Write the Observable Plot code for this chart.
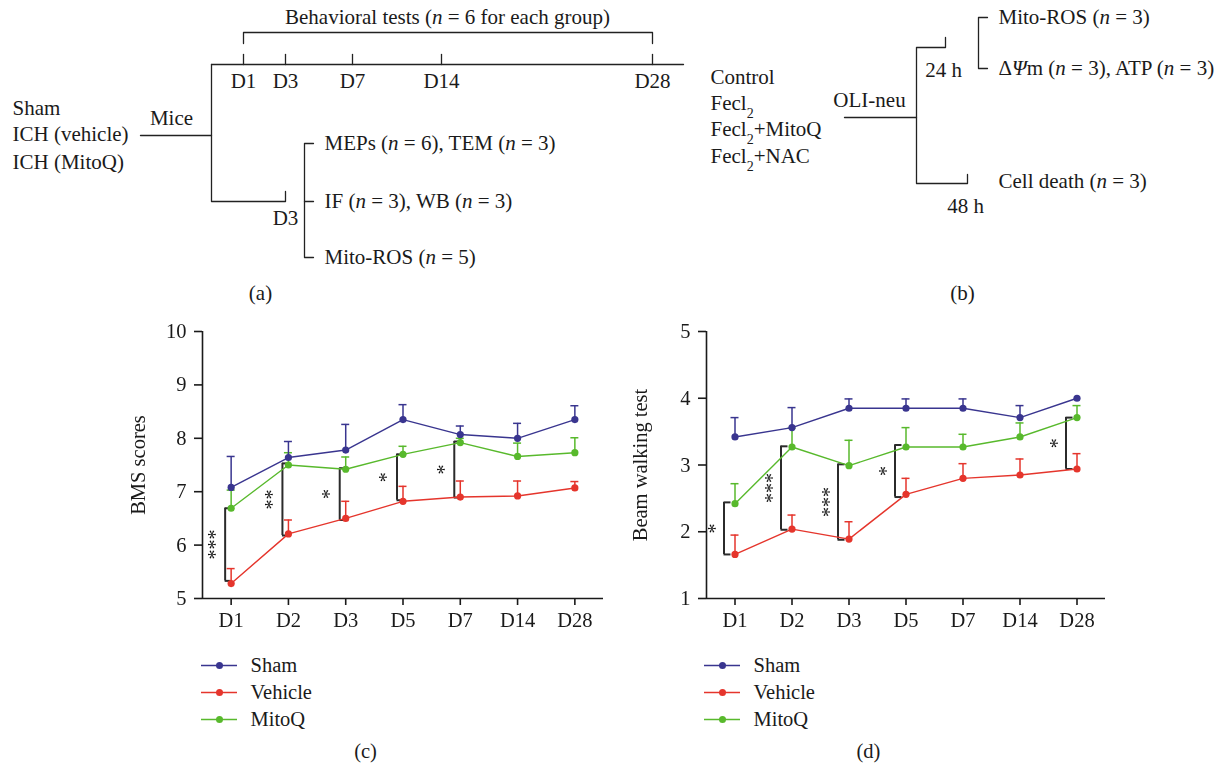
<!DOCTYPE html>
<html><head><meta charset="utf-8">
<script src="https://cdn.jsdelivr.net/npm/d3@7"></script>
<script src="https://cdn.jsdelivr.net/npm/@observablehq/plot@0.6"></script>
<style>
html,body{margin:0;padding:0;background:#fff;}
#fig{position:relative;width:1230px;height:771px;overflow:hidden;font-family:"Liberation Serif",serif;background:#fff;}
#fig > svg{position:absolute;}
#fig > svg.chart{will-change:transform;}
</style></head><body><div id="fig"></div>
<script>
// ---------- data: panel (a) ----------
const aTitle = "Behavioral tests (n = 6 for each group)";
const aDays = ["D1", "D3", "D7", "D14", "D28"];
const aGroups = ["Sham", "ICH (vehicle)", "ICH (MitoQ)"];
const aRoot = "Mice";
const aBranch = "D3";
const aAssays = ["MEPs (n = 6), TEM (n = 3)", "IF (n = 3), WB (n = 3)", "Mito-ROS (n = 5)"];
// ---------- data: panel (b) ----------
const bGroups = ["Control", "Fecl2", "Fecl2+MitoQ", "Fecl2+NAC"];
const bRoot = "OLI-neu";
const bTimes = ["24 h", "48 h"];
const bAssays24 = ["Mito-ROS (n = 3)", "ΔΨm (n = 3), ATP (n = 3)"];
const bAssays48 = ["Cell death (n = 3)"];
// ---------- data: panels (c), (d) ----------
const days = ["D1", "D2", "D3", "D5", "D7", "D14", "D28"];
const groups = ["Sham", "Vehicle", "MitoQ"];
const colors = ["#39358f", "#e5352c", "#58b92c"];

const bmsSham = [7.08, 7.64, 7.78, 8.35, 8.07, 8.00, 8.35];
const bmsShamErr = [0.58, 0.30, 0.48, 0.28, 0.16, 0.28, 0.26];
const bmsVehicle = [5.28, 6.21, 6.50, 6.82, 6.90, 6.92, 7.07];
const bmsVehicleErr = [0.28, 0.26, 0.32, 0.28, 0.30, 0.28, 0.12];
const bmsMitoQ = [6.69, 7.50, 7.42, 7.70, 7.92, 7.66, 7.73];
const bmsMitoQErr = [0.34, 0.23, 0.23, 0.15, 0.08, 0.25, 0.28];
const bmsSigDays = ["D1", "D2", "D3", "D5", "D7"];
const bmsSigTop = [6.69, 7.53, 7.44, 7.70, 7.94];
const bmsSigBottom = [5.33, 6.18, 6.47, 6.84, 6.89];
const bmsSigLabels = ["***", "**", "*", "*", "*"];
const bmsTicks = [5, 6, 7, 8, 9, 10];

const beamSham = [3.42, 3.56, 3.85, 3.85, 3.85, 3.71, 4.00];
const beamShamErr = [0.29, 0.30, 0.14, 0.14, 0.14, 0.18, 0];
const beamVehicle = [1.66, 2.04, 1.89, 2.56, 2.80, 2.85, 2.94];
const beamVehicleErr = [0.29, 0.21, 0.26, 0.24, 0.22, 0.24, 0.23];
const beamMitoQ = [2.42, 3.27, 2.99, 3.27, 3.27, 3.42, 3.71];
const beamMitoQErr = [0.30, 0.28, 0.38, 0.29, 0.19, 0.21, 0.18];
const beamSigDays = ["D1", "D2", "D3", "D5", "D28"];
const beamSigTop = [2.44, 3.28, 3.01, 3.30, 3.71];
const beamSigBottom = [1.66, 2.03, 1.88, 2.52, 2.94];
const beamSigLabels = ["*", "***", "***", "*", "*"];
const beamTicks = [1, 2, 3, 4, 5];

const captions = ["(a)", "(b)", "(c)", "(d)"];

// ---------- styling / layout ----------
const FONT = "'Liberation Serif', 'Times New Roman', serif";
const FS = 20.5;
const FS_A = 21;
const INK = "#1a1a1a";
const fig = document.getElementById("fig");

function place(svg, left, top, cls) {
  svg.style.left = left + "px";
  svg.style.top = top + "px";
  if (cls) svg.classList.add(cls);
  fig.appendChild(svg);
}

// ---------- schematic (a) + (b) ----------
const L = {
  aTitle: [447, 17], aBracketY: 32, aBracketEnd: 43,
  aLineY: 64, aLineX: [211, 683], aDayX: [243, 285, 352, 441, 652], aTickTop: 54, aDayLabelY: 81,
  aRootLineY: 135, aRootLineX0: 140, aRootLabel: [171, 118], aGroupX: 12, aGroupY: [108, 134, 162],
  aBranchY: 201, aBranchX: 285, aBranchTick: 191, aBranchLabel: [285, 218],
  aBrX: 304, aBrTick: 9, aAssayX: 324, aAssayY: [143, 201, 257],
  bGroupX: 710, bGroupY: [77, 103, 129, 156],
  bRootLabel: [869, 100], bRootY: 117, bRootX0: 844, bTrunkX: 916,
  b24Y: 47, b24X: 945, b24Tick: 37, b24Label: [943, 70],
  b48Y: 183, b48X: 967, b48Tick: 174, b48Label: [965, 206],
  bBrX: 978, bBrTick: 9, bAssayX: 998, bAssay24Y: [17, 68], bAssay48Y: [181],
  capY: 293, capX: [260, 962]
};

const segs = [];
let sid = 0;
function seg(pts) { sid++; pts.forEach(([x, y]) => segs.push({id: sid, x, y})); }
const tStart = [], tMid = [];
// (a)
tMid.push({text: aTitle, x: L.aTitle[0], y: L.aTitle[1]});
seg([[L.aDayX[0], L.aBracketEnd], [L.aDayX[0], L.aBracketY], [L.aDayX[4], L.aBracketY], [L.aDayX[4], L.aBracketEnd]]);
seg([[L.aLineX[0], L.aLineY], [L.aLineX[1], L.aLineY]]);
aDays.forEach((d, k) => {
  seg([[L.aDayX[k], L.aLineY], [L.aDayX[k], L.aTickTop]]);
  tMid.push({text: d, x: L.aDayX[k], y: L.aDayLabelY});
});
seg([[L.aLineX[0], L.aLineY], [L.aLineX[0], L.aBranchY], [L.aBranchX, L.aBranchY], [L.aBranchX, L.aBranchTick]]);
seg([[L.aRootLineX0, L.aRootLineY], [L.aLineX[0], L.aRootLineY]]);
tMid.push({text: aRoot, x: L.aRootLabel[0], y: L.aRootLabel[1]});
aGroups.forEach((g, k) => tStart.push({text: g, x: L.aGroupX, y: L.aGroupY[k]}));
tMid.push({text: aBranch, x: L.aBranchLabel[0], y: L.aBranchLabel[1]});
seg([[L.aBrX + L.aBrTick, L.aAssayY[0]], [L.aBrX, L.aAssayY[0]], [L.aBrX, L.aAssayY[2]], [L.aBrX + L.aBrTick, L.aAssayY[2]]]);
seg([[L.aBrX, L.aAssayY[1]], [L.aBrX + L.aBrTick, L.aAssayY[1]]]);
aAssays.forEach((a, k) => tStart.push({text: a, x: L.aAssayX, y: L.aAssayY[k]}));
// (b)
bGroups.forEach((g, k) => tStart.push({text: g, x: L.bGroupX, y: L.bGroupY[k]}));
tMid.push({text: bRoot, x: L.bRootLabel[0], y: L.bRootLabel[1]});
seg([[L.bRootX0, L.bRootY], [L.bTrunkX, L.bRootY]]);
seg([[L.b24X, L.b24Tick], [L.b24X, L.b24Y], [L.bTrunkX, L.b24Y], [L.bTrunkX, L.b48Y], [L.b48X, L.b48Y], [L.b48X, L.b48Tick]]);
tMid.push({text: bTimes[0], x: L.b24Label[0], y: L.b24Label[1]});
tMid.push({text: bTimes[1], x: L.b48Label[0], y: L.b48Label[1]});
seg([[L.bBrX + L.bBrTick, L.bAssay24Y[0]], [L.bBrX, L.bAssay24Y[0]], [L.bBrX, L.bAssay24Y[1]], [L.bBrX + L.bBrTick, L.bAssay24Y[1]]]);
bAssays24.forEach((a, k) => tStart.push({text: a, x: L.bAssayX, y: L.bAssay24Y[k]}));
bAssays48.forEach((a, k) => tStart.push({text: a, x: L.bAssayX, y: L.bAssay48Y[k]}));
tMid.push({text: captions[0], x: L.capX[0], y: L.capY});
tMid.push({text: captions[1], x: L.capX[1], y: L.capY});

const schematic = Plot.plot({
  width: 1230, height: 306, margin: 0,
  style: {fontFamily: FONT, fontSize: FS_A + "px", background: "transparent", color: INK},
  x: {type: "identity", axis: null},
  y: {type: "identity", axis: null},
  marks: [
    Plot.line(segs, {x: "x", y: "y", z: "id", stroke: "#222", strokeWidth: 1.3, curve: "linear"}),
    Plot.text(tStart, {x: "x", y: "y", text: "text", textAnchor: "start", fill: INK}),
    Plot.text(tMid, {x: "x", y: "y", text: "text", textAnchor: "middle", fill: INK})
  ]
});
// typographic touches: italic n, subscript 2, italic Psi
schematic.querySelectorAll("text").forEach(t => {
  if (t.children.length) return;
  let s = t.textContent;
  if (!/n =|Fecl2|Ψ/.test(s)) return;
  s = s.replace(/&/g, "&amp;").replace(/</g, "&lt;");
  s = s.replace(/\(n =/g, '(<tspan font-style="italic">n</tspan> =');
  s = s.replace(/Fecl2/g, 'Fecl<tspan baseline-shift="sub" font-size="14">2</tspan>');
  s = s.replace(/Ψ/g, '<tspan font-style="italic">Ψ</tspan>');
  t.innerHTML = s;
});
place(schematic, 0, 0);

// ---------- line charts ----------
function chart(o) {
  const rows = groups.flatMap((g, gi) => o.means[gi].map((m, i) => ({group: g, i, mean: m, err: o.errs[gi][i], upper: m + o.errs[gi][i]})));
  const withErr = rows.filter(d => d.err > 0);
  const sig = o.sigDays.map((d, k) => ({i: days.indexOf(d), top: o.sigTop[k], bottom: o.sigBottom[k], mid: (o.sigTop[k] + o.sigBottom[k]) / 2, label: o.sigLabels[k]}));
  const order = ["Vehicle", "MitoQ", "Sham"];
  const marks = [
    Plot.ruleY([o.yDomain[0]], {stroke: INK, strokeWidth: 1.6}),
    Plot.ruleX([-0.5], {stroke: INK, strokeWidth: 1.6}),
    Plot.axisX({ticks: d3.range(days.length), tickFormat: i => days[i], tickSize: 7, tickPadding: 7, strokeWidth: 1.6, stroke: INK, fill: INK, label: null}),
    Plot.axisY({ticks: o.yTicks, tickFormat: d3.format("d"), tickSize: 8, tickPadding: 8, strokeWidth: 1.6, stroke: INK, fill: INK, label: null}),
    Plot.text([o.yLabel], {frameAnchor: "left", textAnchor: "middle", rotate: -90, dx: o.labelDx, fill: INK}),
    Plot.ruleX(sig, {x: "i", y1: "bottom", y2: "top", dx: o.brDx, stroke: "#2b2b2b", strokeWidth: 2}),
    Plot.ruleY(sig, {y: "top", x1: "i", x2: "i", insetLeft: o.brDx, insetRight: -o.brDx - o.brTick, stroke: "#2b2b2b", strokeWidth: 2}),
    Plot.ruleY(sig, {y: "bottom", x1: "i", x2: "i", insetLeft: o.brDx, insetRight: -o.brDx - o.brTick, stroke: "#2b2b2b", strokeWidth: 2}),
    Plot.text(sig, {x: "i", y: "mid", text: "label", rotate: -90, dx: o.starDx, fill: "#111", fontSize: 20})
  ];
  for (const g of order) {
    const r = rows.filter(d => d.group === g), e = withErr.filter(d => d.group === g);
    marks.push(
      Plot.ruleX(e, {x: "i", y1: "mean", y2: "upper", stroke: "group", strokeWidth: 1.5}),
      Plot.ruleY(e, {y: "upper", x1: "i", x2: "i", insetLeft: -4, insetRight: -4, stroke: "group", strokeWidth: 1.5}),
      Plot.line(r, {x: "i", y: "mean", stroke: "group", strokeWidth: 1.4}),
      Plot.dot(r, {x: "i", y: "mean", fill: "group", r: 3.6})
    );
  }
  return Plot.plot({
    width: o.width, height: o.height,
    marginLeft: o.ml, marginRight: o.mr, marginTop: o.mt, marginBottom: o.mb,
    style: {fontFamily: FONT, fontSize: FS + "px", background: "transparent", color: INK},
    x: {domain: [-0.5, days.length - 0.5], axis: null},
    y: {domain: o.yDomain, axis: null},
    color: {domain: groups, range: colors},
    marks
  });
}

function legend(caption) {
  return Plot.plot({
    width: 340, height: 121, margin: 0,
    style: {fontFamily: FONT, fontSize: FS + "px", background: "transparent", color: INK},
    x: {type: "identity", axis: null},
    y: {type: "point", domain: groups, range: [14, 69], padding: 0, axis: null},
    color: {domain: groups, range: colors},
    marks: [
      Plot.ruleY(groups, {y: d => d, x1: () => 1, x2: () => 37, stroke: d => d, strokeWidth: 1.6}),
      Plot.dot(groups, {x: () => 19, y: d => d, fill: d => d, r: 3.5}),
      Plot.text(groups, {x: () => 50, y: d => d, text: d => d, textAnchor: "start", fill: INK}),
      Plot.text([caption], {frameAnchor: "bottom-left", dx: 165, dy: -14, textAnchor: "middle", fill: INK})
    ]
  });
}

const chartC = chart({
  means: [bmsSham, bmsVehicle, bmsMitoQ], errs: [bmsShamErr, bmsVehicleErr, bmsMitoQErr],
  sigDays: bmsSigDays, sigTop: bmsSigTop, sigBottom: bmsSigBottom, sigLabels: bmsSigLabels,
  yDomain: [5, 10], yTicks: bmsTicks, yLabel: "BMS scores",
  width: 505, height: 330, ml: 102, mr: 2, mt: 21, mb: 42,
  labelDx: -64, brDx: -6, brTick: 6, starDx: -16
});
place(chartC, 100, 310, "chart");

const chartD = chart({
  means: [beamSham, beamVehicle, beamMitoQ], errs: [beamShamErr, beamVehicleErr, beamMitoQErr],
  sigDays: beamSigDays, sigTop: beamSigTop, sigBottom: beamSigBottom, sigLabels: beamSigLabels,
  yDomain: [1, 5], yTicks: beamTicks, yLabel: "Beam walking test",
  width: 515, height: 330, ml: 101, mr: 15, mt: 21, mb: 42,
  labelDx: -66, brDx: -11, brTick: 7, starDx: -19
});
place(chartD, 605, 310, "chart");

place(legend(captions[2]), 200, 650);
place(legend(captions[3]), 703, 650);
</script></body></html>
